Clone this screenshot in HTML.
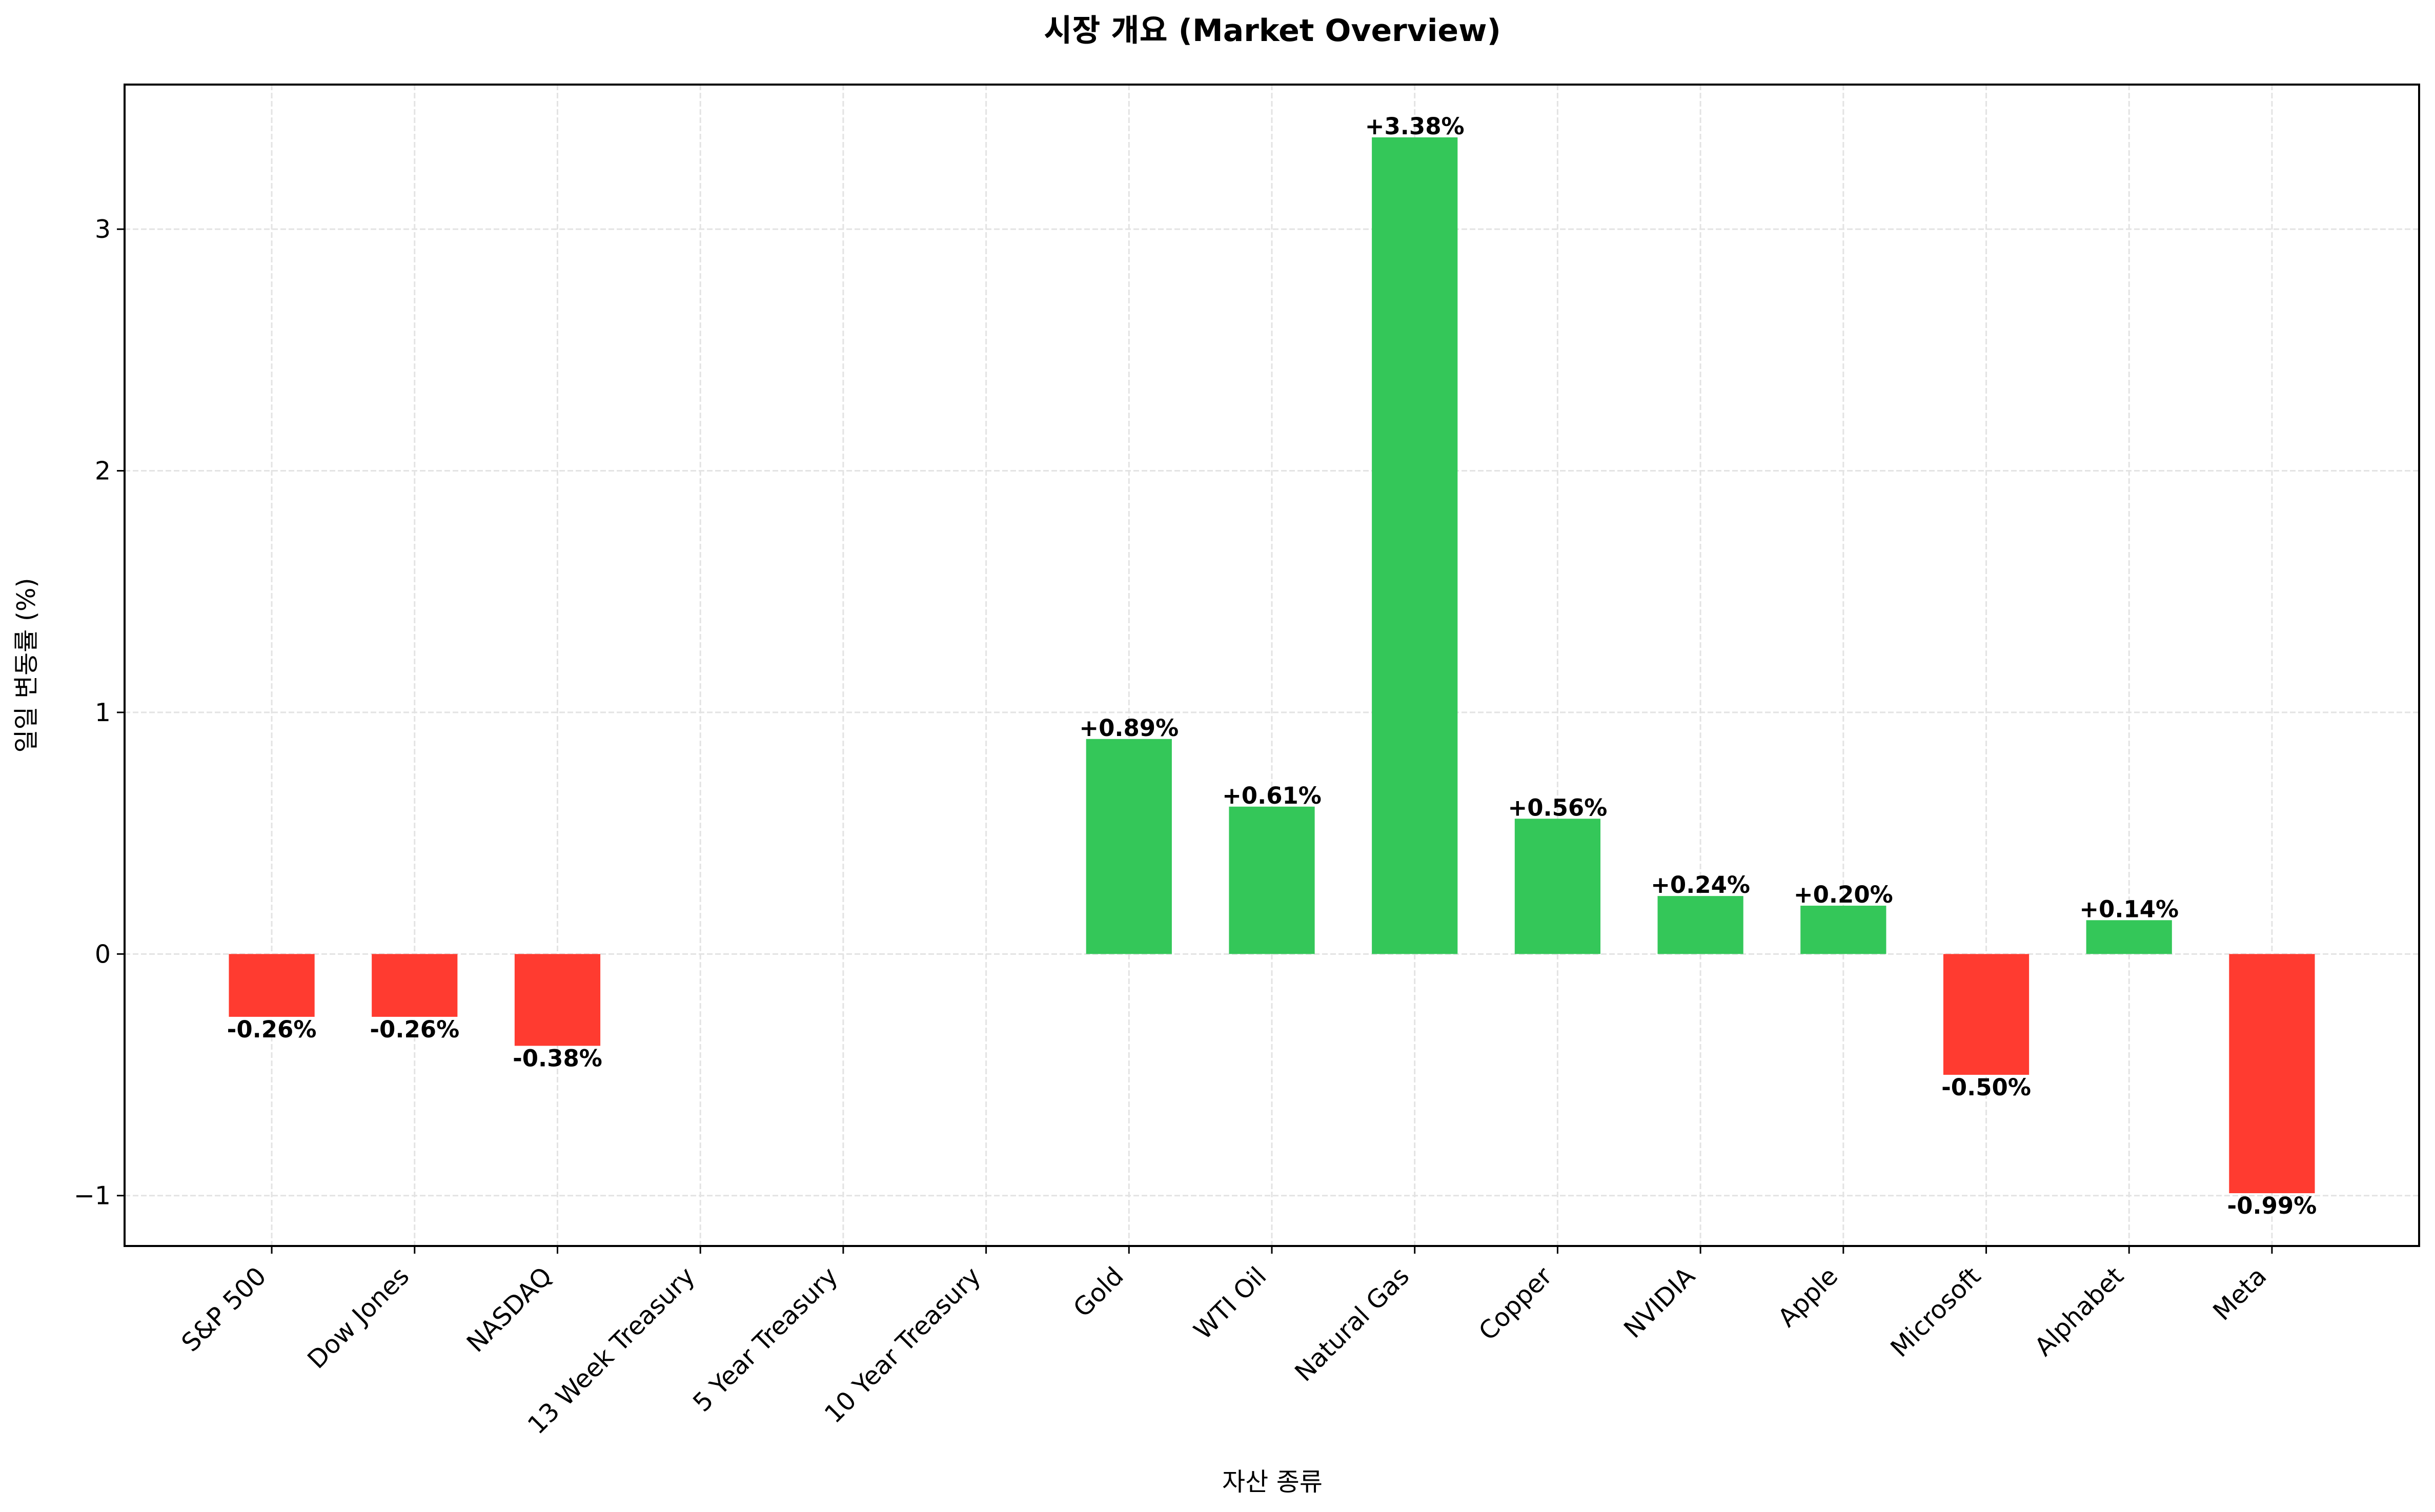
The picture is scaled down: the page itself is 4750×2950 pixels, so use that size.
<!DOCTYPE html>
<html><head><meta charset="utf-8">
<style>
html,body{margin:0;padding:0;background:#fff;}
svg{display:block;font-family:"DejaVu Sans","Liberation Sans","Noto Sans CJK KR",sans-serif;}
</style></head>
<body>
<svg id="chart" width="4750" height="2950" viewBox="0 0 4750 2950" xmlns="http://www.w3.org/2000/svg">
<rect x="0" y="0" width="4750" height="2950" fill="#fff"/>
<g id="grid"></g>
<g id="bars"></g>
<g id="labels"></g>
<rect x="243" y="165" width="4476" height="2266" fill="none" stroke="#000" stroke-width="4"/>
<g id="xticks"></g>
<g id="yticks"></g>
<text x="2482" y="80" text-anchor="middle" font-size="60" font-weight="bold">시장 개요 (Market Overview)</text>
<text x="0" y="0" transform="translate(68,1298) rotate(-90)" text-anchor="middle" font-size="49">일일 변동률 (%)</text>
<text x="2482" y="2908" text-anchor="middle" font-size="49">자산 종류</text>
</svg>
<script>
const categories = ["S&P 500","Dow Jones","NASDAQ","13 Week Treasury","5 Year Treasury","10 Year Treasury","Gold","WTI Oil","Natural Gas","Copper","NVIDIA","Apple","Microsoft","Alphabet","Meta"];
const changes = [-0.26,-0.26,-0.38,0,0,0,0.89,0.61,3.38,0.56,0.24,0.20,-0.50,0.14,-0.99];
const showLabel = [true,true,true,false,false,false,true,true,true,true,true,true,true,true,true];
const yTicks = [-1,0,1,2,3];

const NS="http://www.w3.org/2000/svg";
const L=243,R=4719,T=165,B=2431;
const xMin=-1.03,xMax=15.03,yMin=-1.2085,yMax=3.5985;
function xs(v){return L+(v-xMin)/(xMax-xMin)*(R-L);}
function ys(v){return B-(v-yMin)/(yMax-yMin)*(B-T);}
function mk(tag,attrs,parent){const e=document.createElementNS(NS,tag);for(const k in attrs)e.setAttribute(k,attrs[k]);parent.appendChild(e);return e;}
const grid=document.getElementById('grid'),bars=document.getElementById('bars'),labels=document.getElementById('labels'),xt=document.getElementById('xticks'),yt=document.getElementById('yticks');

yTicks.forEach(t=>{
  const y=ys(t);
  const g=mk('line',{x1:L,x2:R,y1:y,y2:y,stroke:'#e3e3e3','stroke-width':3,'stroke-dasharray':'11 5'},grid);
  
  
  const tk=mk('line',{x1:L-15,x2:L,y1:y,y2:y,stroke:'#000','stroke-width':3},yt);
  
  
  const tx=mk('text',{x:L-27,y:y+17,'text-anchor':'end','font-size':49},yt);
  tx.textContent=(t<0?'\u2212':'')+Math.abs(t);
  
  
});

categories.forEach((c,i)=>{
  const x=xs(i);
  const g=mk('line',{x1:x,x2:x,y1:T,y2:B,stroke:'#e3e3e3','stroke-width':3,'stroke-dasharray':'11 5'},grid);
  
  
  const v=changes[i];
  const w=xs(0.3)-xs(-0.3);
  const y0=ys(0),y1=ys(v);
  const r=mk('rect',{x:x-w/2,y:Math.min(y0,y1),width:w,height:Math.abs(y1-y0),fill:v>=0?'#34c759':'#ff3b30'},bars);
  
  
  if(showLabel[i]){
    const lt=mk('text',{x:x,y:v>=0?y1-6:y1+40,'text-anchor':'middle','font-size':45,'font-weight':'bold'},labels);
    lt.textContent=(v>=0?'+':'-')+Math.abs(v).toFixed(2)+'%';
    
    
  }
  const tk=mk('line',{x1:x,x2:x,y1:B,y2:B+15,stroke:'#000','stroke-width':3},xt);
  
  
  const ax=x-8,ay=B+30+32;
  const tl=mk('text',{x:0,y:0,transform:'translate('+ax+','+ay+') rotate(-45)','text-anchor':'end','font-size':49},xt);
  tl.textContent=c;
  
  
});
</script>
</body></html>
